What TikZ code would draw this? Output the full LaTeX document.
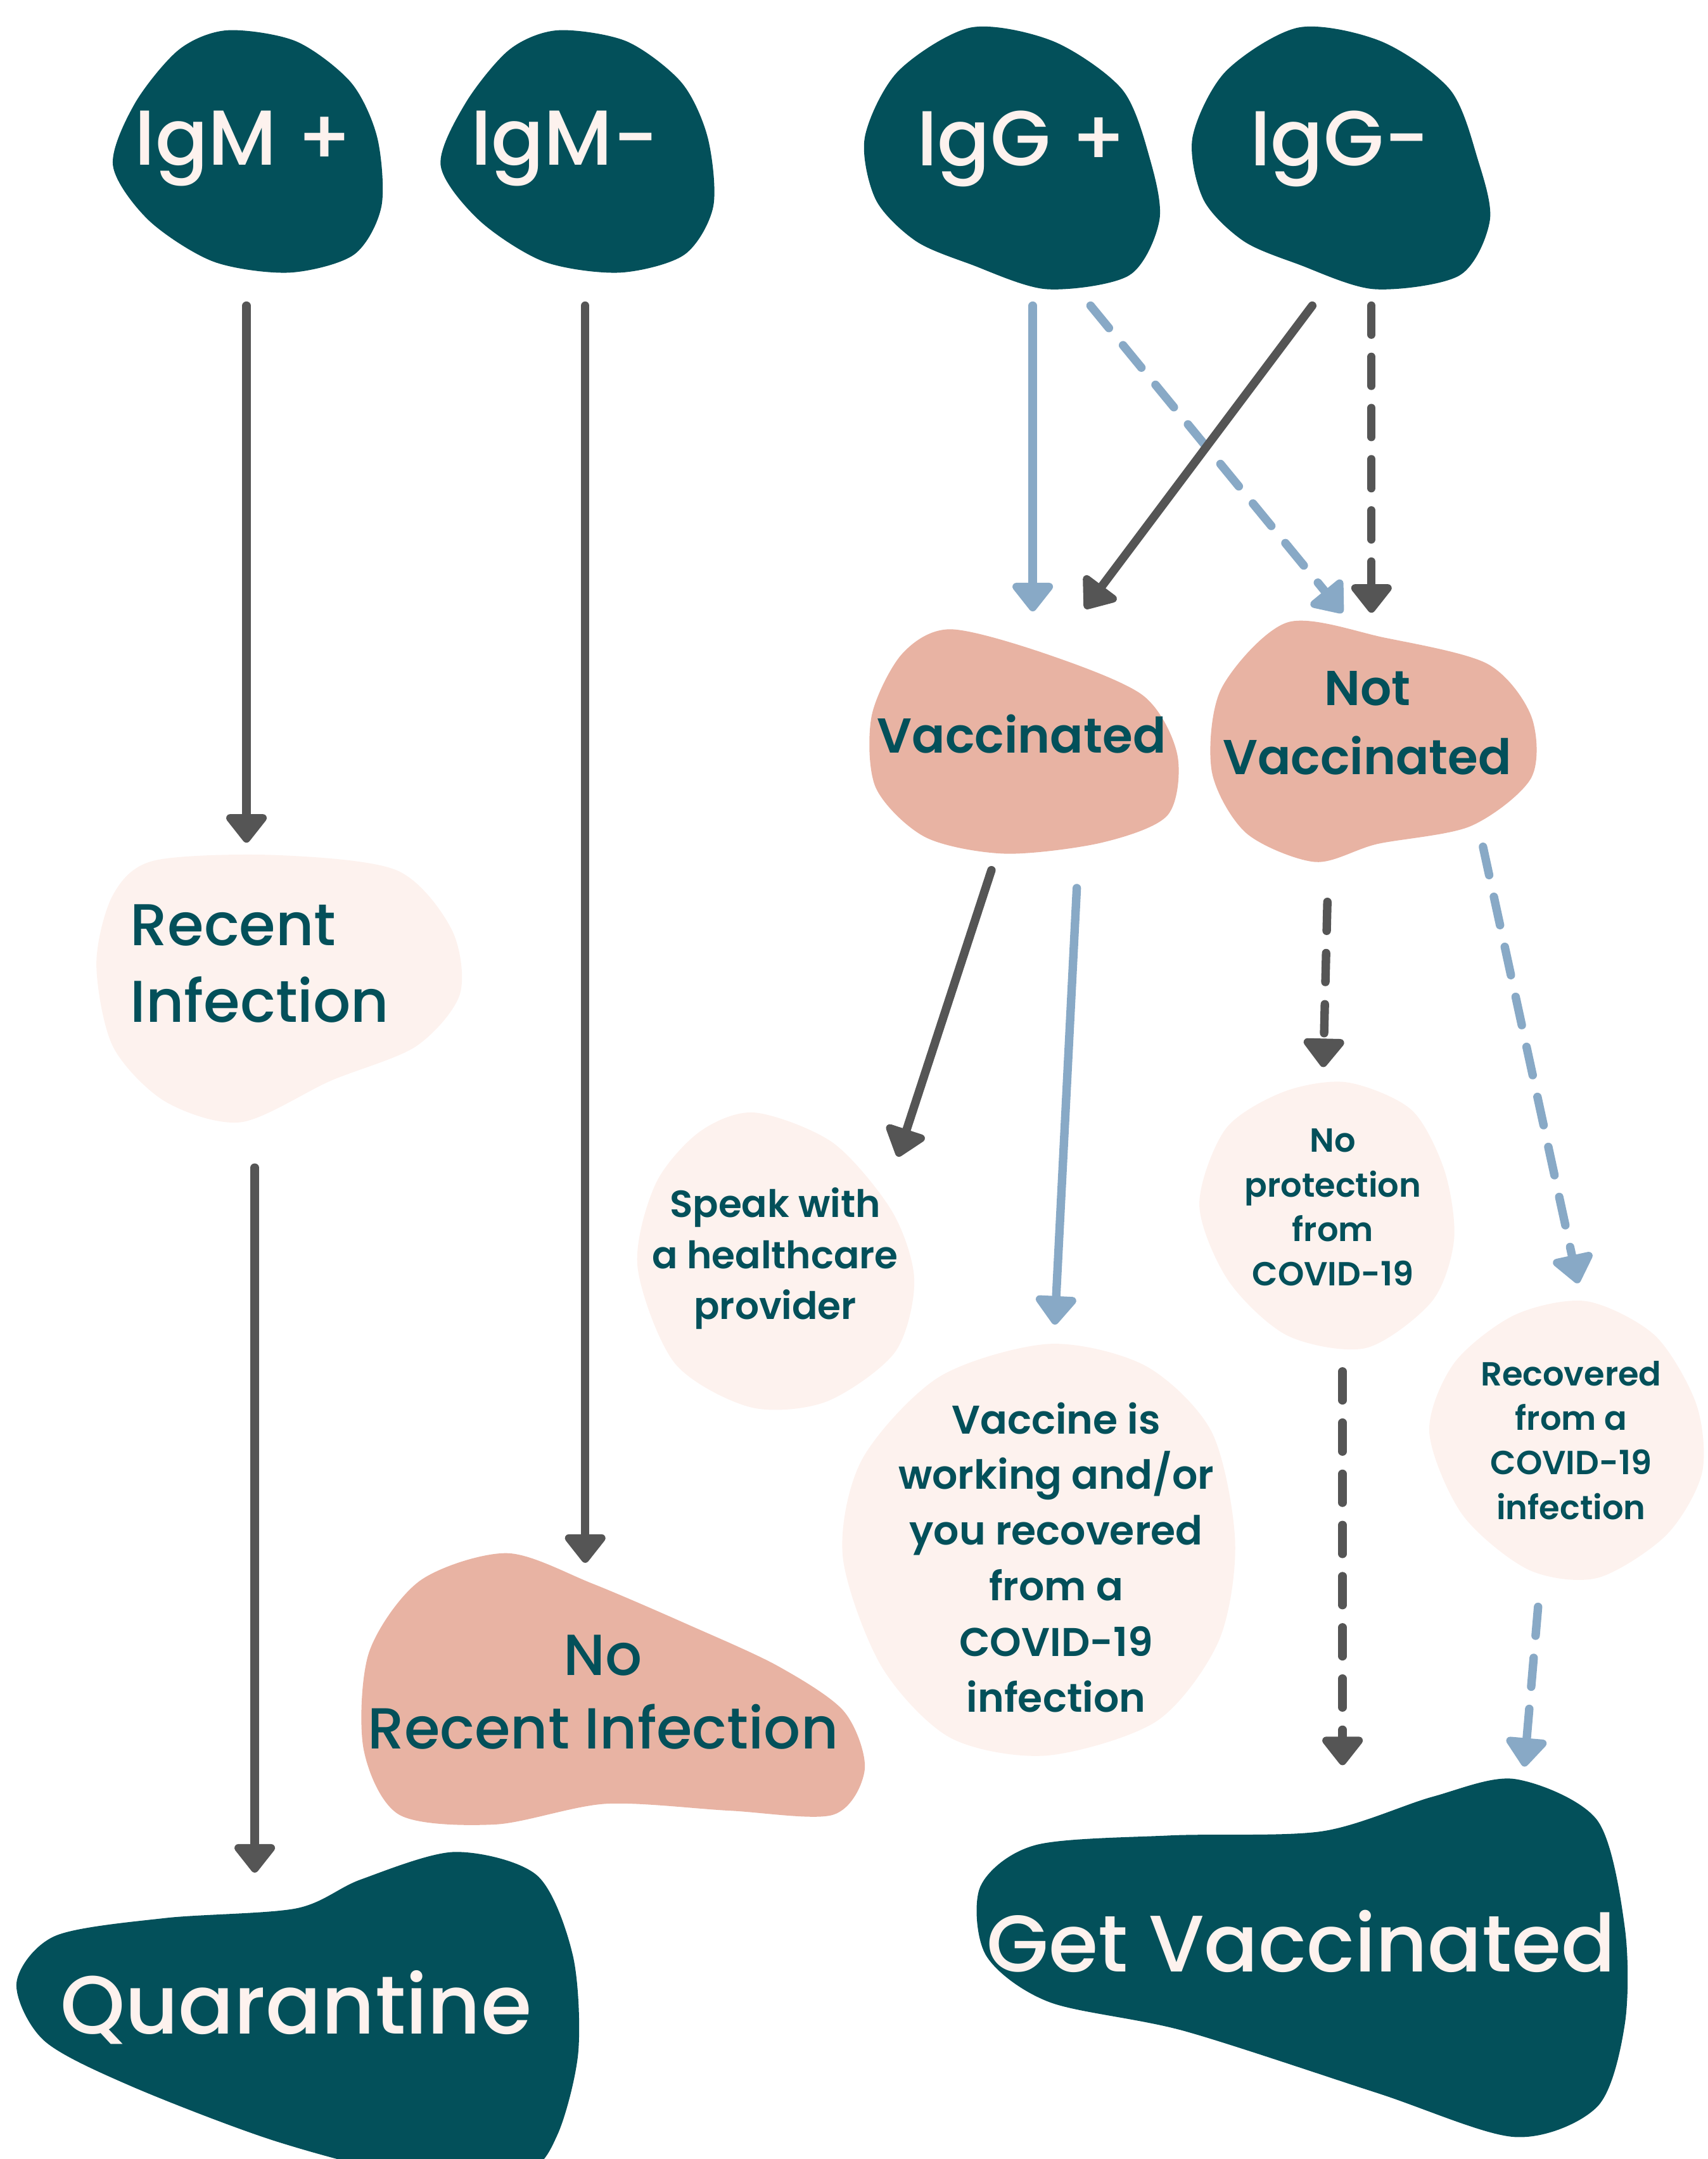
\documentclass[tikz,border=0pt]{standalone}
\usepackage{fontspec}
\IfFontExistsTF{Poppins SemiBold}
  {\setmainfont{Poppins}[BoldFont={Poppins SemiBold}]}
  {\setmainfont{Poppins}}
\IfFontExistsTF{Poppins Medium}
  {\newfontfamily\blobfont{Poppins Medium}}
  {\newfontfamily\blobfont{Poppins}}
\usetikzlibrary{arrows.meta}

\definecolor{blobteal}{HTML}{03505A}
\definecolor{blobsalmon}{HTML}{E8B3A3}
\definecolor{blobcream}{HTML}{FDF2EE}
\definecolor{arrowgray}{HTML}{555555}
\definecolor{arrowblue}{HTML}{88A9C6}

\begin{document}
\begin{tikzpicture}[x=0.02174cm,y=-0.02174cm,
    darkblob/.style={fill=blobteal},
    salmonblob/.style={fill=blobsalmon},
    creamblob/.style={fill=blobcream},
    grayarrow/.style={draw=arrowgray,line width=3.8pt,line cap=round,
      -{Triangle[width=21pt,length=14pt,round]}},
    bluearrow/.style={grayarrow,draw=arrowblue},
    dashedarrow/.style={dash pattern=on 13pt off 10pt},
    darklabel/.style={text=blobcream,align=center,font=\fontsize{35}{40}\blobfont},
    midlabel/.style={text=blobteal,align=center,font=\fontsize{22}{31}\selectfont\bfseries},
    smalllabel/.style={text=blobteal,align=center,font=\fontsize{17}{23}\selectfont\bfseries},
    tinylabel/.style={text=blobteal,align=center,font=\fontsize{15}{20}\selectfont\bfseries}]

    % Frame
    \useasboundingbox (0,0) rectangle (1240,1568);
    \clip (0,0) rectangle (1240,1568);

    % Test results (top row)
    \fill[darkblob] plot[smooth cycle] coordinates {(165,22) (215,30) (255,60) (274,100) (277,150) (257,185) (210,198) (155,190) (108,160) (82,120) (98,75) (130,36)};
    \fill[darkblob] plot[smooth cycle] coordinates {(405,22) (455,30) (495,60) (514,100) (518,150) (497,185) (450,198) (395,190) (348,160) (320,120) (338,75) (370,36)};
    \fill[darkblob] plot[smooth cycle] coordinates {(705,20) (765,30) (815,65) (835,115) (842,160) (820,200) (760,210) (705,192) (665,175) (636,145) (628,100) (652,52)};
    \fill[darkblob] plot[smooth cycle] coordinates {(943,20) (1003,30) (1053,65) (1073,115) (1082,160) (1060,200) (998,210) (943,192) (903,175) (874,145) (866,100) (890,52)};
    \node[darklabel] (igmpos) at (177,108) {IgM +};
    \node[darklabel] (igmneg) at (410,108) {IgM-};
    \node[darklabel] (iggpos) at (742,108) {IgG +};
    \node[darklabel] (iggneg) at (973,108) {IgG-};

    % Vaccination status
    \fill[salmonblob] plot[smooth cycle] coordinates {(690,457) (760,475) (830,505) (855,548) (848,592) (800,612) (730,620) (672,608) (636,572) (633,520) (655,475)};
    \fill[salmonblob] plot[smooth cycle] coordinates {(935,452) (1005,463) (1080,482) (1112,520) (1112,565) (1068,600) (1000,613) (955,626) (905,605) (880,560) (887,500)};
    \node[midlabel] (vacc) at (742,533) {Vaccinated};
    \node[midlabel] (notvacc) at (993,525) {Not\\Vaccinated};

    % Meaning of each result
    \fill[creamblob] plot[smooth cycle] coordinates {(112,625) (200,621) (288,632) (328,675) (334,722) (302,760) (240,785) (175,815) (120,800) (82,760) (70,700) (82,650)};
    \node[midlabel,align=left,anchor=west,font=\fontsize{26.5}{34.5}\blobfont] (recent) at (89,700) {Recent\\Infection};
    \fill[creamblob] plot[smooth cycle] coordinates {(548,808) (605,830) (648,880) (664,930) (650,982) (600,1018) (545,1022) (490,990) (463,920) (476,860) (508,822)};
    \node[smalllabel] (speak) at (563,914) {Speak with\\a healthcare\\provider};
    \fill[creamblob] plot[smooth cycle] coordinates {(762,976) (832,992) (880,1040) (897,1120) (885,1192) (840,1250) (760,1275) (690,1262) (640,1210) (612,1130) (626,1060) (682,1000)};
    \node[smalllabel,font=\fontsize{18}{25}\selectfont\bfseries] (working) at (767,1131) {Vaccine is\\working and/or\\you recovered\\from a\\COVID-19\\infection};
    \fill[creamblob] plot[smooth cycle] coordinates {(978,786) (1025,806) (1049,850) (1056,900) (1040,945) (992,979) (935,970) (892,930) (871,875) (890,820) (932,793)};
    \node[tinylabel] (noprot) at (968,877) {No\\protection\\from\\COVID-19};
    \fill[creamblob] plot[smooth cycle] coordinates {(1152,945) (1202,970) (1232,1020) (1236,1070) (1210,1115) (1160,1146) (1110,1140) (1062,1100) (1038,1040) (1056,990) (1100,955)};
    \node[tinylabel] (recovered) at (1141,1046) {Recovered\\from a\\COVID-19\\infection};
    \fill[salmonblob] plot[smooth cycle] coordinates {(368,1128) (430,1150) (500,1180) (565,1210) (613,1243) (628,1285) (605,1318) (530,1315) (440,1310) (360,1325) (290,1318) (264,1270) (268,1200) (305,1148)};
    \node[midlabel,font=\fontsize{26}{33}\blobfont] (norecent) at (438,1229) {No\\Recent Infection};

    % Outcomes
    \fill[darkblob] plot[smooth cycle] coordinates {(330,1345) (390,1362) (416,1420) (420,1490) (405,1550) (380,1578) (300,1580) (200,1555) (95,1515) (32,1482) (12,1440) (40,1406) (120,1393) (215,1386) (262,1365)};
    \node[darklabel,font=\fontsize{37}{44}\blobfont] (quarantine) at (215,1458) {Quarantine};
    \fill[darkblob] plot[smooth cycle] coordinates {(1100,1292) (1160,1322) (1180,1400) (1180,1470) (1160,1530) (1100,1552) (1000,1520) (860,1475) (762,1454) (716,1420) (712,1370) (752,1340) (850,1333) (960,1330) (1040,1305)};
    \node[darklabel,font=\fontsize{36}{44}\blobfont] (getvacc) at (945,1410) {Get Vaccinated};

    % Arrow end points
    \coordinate (igmpos-out) at (179,222);
    \coordinate (recent-in) at (179,612);
    \coordinate (igmneg-out) at (425,222);
    \coordinate (norecent-in) at (425,1135);
    \coordinate (iggpos-out) at (750,222);
    \coordinate (iggpos-out2) at (792,222);
    \coordinate (iggneg-out) at (953,222);
    \coordinate (iggneg-out2) at (996,222);
    \coordinate (vacc-in) at (750,444);
    \coordinate (vacc-in2) at (788,442);
    \coordinate (notvacc-in) at (975,445);
    \coordinate (notvacc-in2) at (996,445);
    \coordinate (recent-out) at (185,848);
    \coordinate (quarantine-in) at (185,1360);
    \coordinate (vacc-out) at (720,632);
    \coordinate (speak-in) at (652,840);
    \coordinate (vacc-out2) at (782,645);
    \coordinate (working-in) at (766,962);
    \coordinate (notvacc-out) at (964,655);
    \coordinate (noprot-in) at (961,775);
    \coordinate (notvacc-out2) at (1077,615);
    \coordinate (recovered-in) at (1146,932);
    \coordinate (noprot-out) at (975,996);
    \coordinate (getvacc-in) at (975,1282);
    \coordinate (recovered-out) at (1117,1167);
    \coordinate (getvacc-in2) at (1107,1283);

    % Connectors
    \draw[grayarrow] (igmpos-out) -- (recent-in);
    \draw[grayarrow] (igmneg-out) -- (norecent-in);
    \draw[bluearrow] (iggpos-out) -- (vacc-in);
    \draw[bluearrow,dashedarrow] (iggpos-out2) -- (notvacc-in);
    \draw[grayarrow] (iggneg-out) -- (vacc-in2);
    \draw[grayarrow,dashedarrow] (iggneg-out2) -- (notvacc-in2);
    \draw[grayarrow] (recent-out) -- (quarantine-in);
    \draw[grayarrow] (vacc-out) -- (speak-in);
    \draw[bluearrow] (vacc-out2) -- (working-in);
    \draw[grayarrow,dashedarrow] (notvacc-out) -- (noprot-in);
    \draw[bluearrow,dashedarrow] (notvacc-out2) -- (recovered-in);
    \draw[grayarrow,dashedarrow] (noprot-out) -- (getvacc-in);
    \draw[bluearrow,dashedarrow] (recovered-out) -- (getvacc-in2);
\end{tikzpicture}
\end{document}
